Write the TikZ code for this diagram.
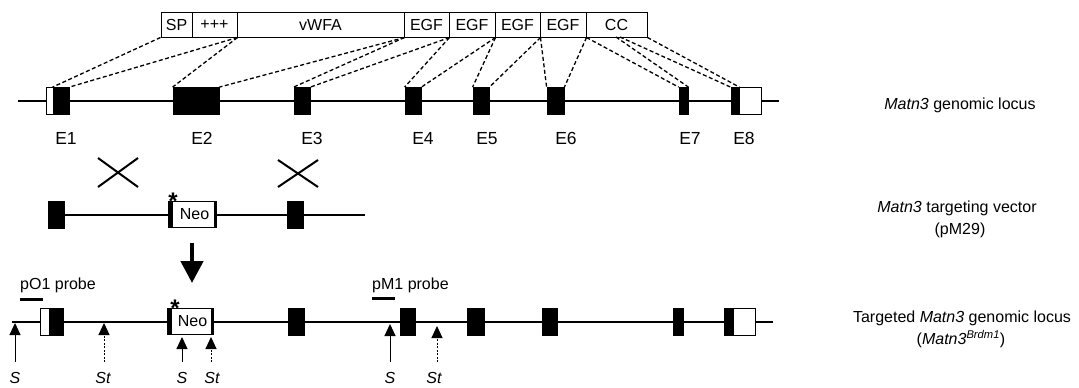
\documentclass[tikz,border=0pt]{standalone}
\usepackage{fontspec}
\setmainfont{Liberation Sans}
\usetikzlibrary{arrows.meta,calc}
\begin{document}
\begin{tikzpicture}[x=1pt,y=-1pt,
  dom/.style={draw,line width=1pt,minimum height=25pt,inner sep=0pt,font=\fontsize{16}{19}\selectfont},
  exon/.style={draw,fill=black,line width=0.8pt,inner sep=0pt,minimum height=27pt},
  utr/.style={draw,fill=white,line width=1pt,inner sep=0pt,minimum height=27pt},
  neobox/.style={draw,fill=white,line width=1.2pt,inner sep=0pt,minimum height=26pt,font=\fontsize{16}{18}\selectfont},
  maplink/.style={line width=1.3pt,dash pattern=on 4pt off 2.5pt},
  dna/.style={line width=2pt},
  lbl/.style={font=\fontsize{16}{19}\selectfont,inner sep=0pt},
  exlbl/.style={font=\fontsize{17.5}{20}\selectfont,inner sep=0pt,anchor=base},
  probe/.style={line width=3pt},
  xmark/.style={line width=2pt},
  rsite/.style={line width=1pt,-{Triangle[width=11pt,length=12pt]}},
  rsitedash/.style={line width=1pt,dash pattern=on 2pt off 1.5pt,-{Triangle[width=11pt,length=12pt]}},
  starmark/.style={font=\fontsize{24}{24}\selectfont\bfseries,inner sep=0pt}
]
\fill[white] (0,0) rectangle (1079,388);
\useasboundingbox (0,0) rectangle (1079,388);

% ---------- protein domains ----------
\node[dom,minimum width=31pt]  (sp)   at (176.5,24.5) {SP};
\node[dom,minimum width=45pt]  (pp)   at (214.5,24.5) {+++};
\node[dom,minimum width=167pt] (vw)   at (320.5,24.5) {vWFA};
\node[dom,minimum width=45pt]  (egfa) at (426.5,24.5) {EGF};
\node[dom,minimum width=46pt]  (egfb) at (472,24.5) {EGF};
\node[dom,minimum width=45pt]  (egfc) at (517.5,24.5) {EGF};
\node[dom,minimum width=46pt]  (egfd) at (563,24.5) {EGF};
\node[dom,minimum width=61pt]  (cc)   at (616.5,24.5) {CC};
\coordinate (cca) at (616,37);
\coordinate (ccb) at (620,37);

% ---------- genomic locus ----------
\coordinate (gl0) at (18,101);
\coordinate (gl1) at (779,101);
\draw[dna] (gl0) -- (gl1);
\node[utr,minimum width=7pt]   (e1u) at (49.5,101) {};
\node[exon,minimum width=16pt] (e1)  at (61,101) {};
\node[exon,minimum width=46pt] (e2)  at (196,101) {};
\node[exon,minimum width=16pt] (e3)  at (302,101) {};
\node[exon,minimum width=16pt] (e4)  at (413,101) {};
\node[exon,minimum width=16pt] (e5)  at (481,101) {};
\node[exon,minimum width=17pt] (e6)  at (555.5,101) {};
\node[exon,minimum width=9pt]  (e7)  at (683.5,101) {};
\node[utr,minimum width=22pt]  (e8u) at (750,101) {};
\node[exon,minimum width=8pt]  (e8)  at (735,101) {};

\draw[maplink] (sp.south west) -- (e1.north west);
\draw[maplink] (pp.south east) -- (e1.north east);
\draw[maplink] (pp.south east) -- (e2.north west);
\draw[maplink] (vw.south east) -- (e2.north east);
\draw[maplink] (vw.south east) -- (e3.north west);
\draw[maplink] (egfa.south east) -- (e3.north east);
\draw[maplink] (egfa.south east) -- (e4.north west);
\draw[maplink] (egfb.south east) -- (e4.north east);
\draw[maplink] (egfb.south east) -- (e5.north west);
\draw[maplink] (egfc.south east) -- (e5.north east);
\draw[maplink] (egfc.south east) -- (e6.north west);
\draw[maplink] (egfd.south east) -- (e6.north east);
\draw[maplink] (egfd.south east) -- (e7.north west);
\draw[maplink] (cca) -- (e7.north east);
\draw[maplink] (ccb) -- (e8.north west);
\draw[maplink] (cc.south east) -- (e8.north east);

\node[exlbl] (le1) at (66,144) {E1};
\node[exlbl] (le2) at (202,144) {E2};
\node[exlbl] (le3) at (312,144) {E3};
\node[exlbl] (le4) at (423,144) {E4};
\node[exlbl] (le5) at (487,144) {E5};
\node[exlbl] (le6) at (566,144) {E6};
\node[exlbl] (le7) at (690,144) {E7};
\node[exlbl] (le8) at (744,144) {E8};

% ---------- crossovers ----------
\draw[xmark] (98,158) -- (138,187);
\draw[xmark] (98,187) -- (138,158);
\draw[xmark] (278,160) -- (318,187);
\draw[xmark] (278,187) -- (318,160);

% ---------- targeting vector ----------
\node[exon,minimum width=16pt] (v1) at (56,214.5) {};
\coordinate (vend) at (365,214.5);
\node[neobox,minimum width=47pt] (neo1) at (192.5,214.5) {\hspace*{4pt}Neo};
\node[exon,minimum width=16pt] (v2) at (295,214.5) {};
\draw[dna] (v1.east) -- (neo1.west);
\draw[dna] (neo1.east) -- (v2.west);
\draw[dna] (v2.east) -- (vend);
\node[exon,minimum width=4pt,minimum height=26pt,anchor=west] (neo1l) at (neo1.west) {};
\node[exon,minimum width=2pt,minimum height=26pt,anchor=east] (neo1r) at (neo1.east) {};
\node[starmark] (star1) at (173,201) {*};

% ---------- recombination arrow ----------
\coordinate (ra0) at (192,243);
\coordinate (ra1) at (192,283);
\draw[line width=4.5pt,-{Triangle[width=22pt,length=22pt]}] (ra0) -- (ra1);

% ---------- targeted locus ----------
\coordinate (tl0) at (12,322);
\coordinate (tl1) at (773,322);
\draw[dna] (tl0) -- (tl1);
\node[utr,minimum width=9pt]   (t1u) at (44.5,321.5) {};
\node[exon,minimum width=14pt] (t1)  at (56,321.5) {};
\node[neobox,minimum width=45pt] (neo2) at (190.5,321.5) {\hspace*{4pt}Neo};
\node[exon,minimum width=4pt,minimum height=26pt,anchor=west] (neo2l) at (neo2.west) {};
\node[exon,minimum width=2pt,minimum height=26pt,anchor=east] (neo2r) at (neo2.east) {};
\node[starmark] (star2) at (175,308) {*};
\node[exon,minimum width=16pt] (t3)  at (296,321.5) {};
\node[exon,minimum width=15pt] (t4)  at (407.5,321.5) {};
\node[exon,minimum width=17pt] (t5)  at (475.5,321.5) {};
\node[exon,minimum width=15pt] (t6)  at (549.5,321.5) {};
\node[exon,minimum width=10pt] (t7)  at (678,321.5) {};
\node[utr,minimum width=22pt]  (t8u) at (744,321.5) {};
\node[exon,minimum width=9pt]  (t8)  at (728.5,321.5) {};

% probes
\coordinate (po0) at (20,299);
\coordinate (po1) at (43,299);
\draw[probe] (po0) -- (po1);
\node[lbl,anchor=west] (pol) at (20,285) {pO1 probe};
\coordinate (pm0) at (372,298);
\coordinate (pm1) at (395,298);
\draw[probe] (pm0) -- (pm1);
\node[lbl,anchor=west] (pml) at (372,285) {pM1 probe};

% restriction sites
\coordinate (s1b) at (15,362);  \coordinate (s1t) at (15,323);
\coordinate (st1b) at (104,362); \coordinate (st1t) at (104,323);
\coordinate (s2b) at (182,362); \coordinate (s2t) at (182,337);
\coordinate (st2b) at (211,362); \coordinate (st2t) at (211,337);
\coordinate (s3b) at (390,362); \coordinate (s3t) at (390,324);
\coordinate (st3b) at (437,362); \coordinate (st3t) at (437,326);
\draw[rsite] (s1b) -- (s1t);
\draw[rsitedash] (st1b) -- (st1t);
\draw[rsite] (s2b) -- (s2t);
\draw[rsitedash] (st2b) -- (st2t);
\draw[rsite] (s3b) -- (s3t);
\draw[rsitedash] (st3b) -- (st3t);
\node[lbl,font=\fontsize{16}{19}\selectfont\itshape] (ls1) at (15,378) {S};
\node[lbl,font=\fontsize{16}{19}\selectfont\itshape] (lst1) at (103,378) {St};
\node[lbl,font=\fontsize{16}{19}\selectfont\itshape] (ls2) at (182,378) {S};
\node[lbl,font=\fontsize{16}{19}\selectfont\itshape] (lst2) at (212,378) {St};
\node[lbl,font=\fontsize{16}{19}\selectfont\itshape] (ls3) at (390,378) {S};
\node[lbl,font=\fontsize{16}{19}\selectfont\itshape] (lst3) at (434,378) {St};

% ---------- right-hand labels ----------
\node[lbl] (r1) at (960,105) {\textit{Matn3} genomic locus};
\node[lbl] (r2a) at (957,208) {\textit{Matn3} targeting vector};
\node[lbl] (r2b) at (960,230) {(pM29)};
\node[lbl] (r3a) at (962,318) {Targeted \textit{Matn3} genomic locus};
\node[lbl] (r3b) at (961,339) {(\textit{Matn3}\textsuperscript{\textit{Brdm1}})};
\end{tikzpicture}
\end{document}
